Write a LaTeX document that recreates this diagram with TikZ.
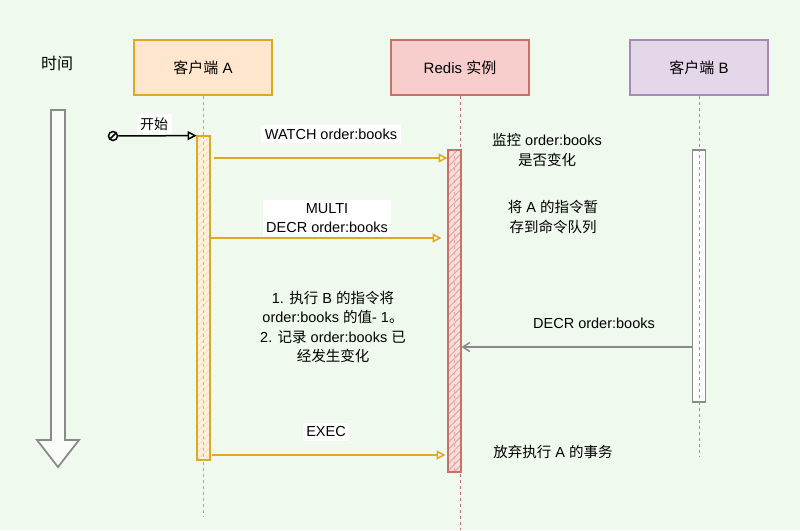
\documentclass[tikz,border=0pt]{standalone}
\usepackage{fontspec}
\setmainfont{Liberation Sans}
\newfontfamily\cjk{Noto Sans CJK SC}
\newcommand\zh[1]{{\cjk #1}}
\usetikzlibrary{arrows.meta,patterns.meta}
\definecolor{bg}{HTML}{F0F9EE}
\definecolor{aFill}{HTML}{FFE6CC}
\definecolor{aLine}{HTML}{E0A820}
\definecolor{rFill}{HTML}{F8CECC}
\definecolor{rLine}{HTML}{C8706A}
\definecolor{bFill}{HTML}{E4D7EA}
\definecolor{bLine}{HTML}{A58AB5}
\definecolor{gLine}{HTML}{8A8A8A}
\tikzset{
  head/.style={draw, line width=1.3pt, minimum width=138pt, minimum height=55pt, font=\fontsize{15}{17}\selectfont},
  life/.style={dashed, dash pattern=on 3pt off 3pt, line width=1pt},
  bar/.style={draw, line width=1.4pt, minimum width=13pt, inner sep=0pt},
  msg/.style={draw=aLine, line width=1.5pt, -{Triangle[open,length=9pt,width=9pt]}},
  lbl/.style={fill=white, inner sep=3.5pt, font=\fontsize{14.5}{18}\selectfont, align=center},
  note/.style={font=\fontsize{14.5}{19.5}\selectfont, align=center, inner sep=0pt},
}
\begin{document}
\begin{tikzpicture}[x=1pt,y=-1pt]
\fill[bg] (0,0) rectangle (800,530);
\useasboundingbox (0,0) rectangle (800,530);

% time
\node[font=\fontsize{16}{18}\selectfont\cjk] (time) at (57,63) {时间};
\draw[gLine, line width=1.8pt, fill=bg!50!white] (51,110) -- (65,110) -- (65,440) -- (79,440) -- (58,467) -- (37,440) -- (51,440) -- cycle;

% heads
\node[head, draw=aLine, fill=aFill] (A) at (203,67.5) {\zh{客户端} A};
\node[head, draw=rLine, fill=rFill] (R) at (460,67.5) {Redis \zh{实例}};
\node[head, draw=bLine, fill=bFill] (B) at (699,67.5) {\zh{客户端} B};

% lifelines
\coordinate (Aend) at (203,517);
\coordinate (Rend) at (460,530);
\coordinate (Bend) at (699,456);
\draw[life, aLine] (A.south) -- (Aend);
\draw[life, rLine] (R.south) -- (Rend);
\draw[life, bLine] (B.south) -- (Bend);

% activation bars
\node[bar, draw=aLine, minimum height=324pt, fill=aFill!60!white] at (203.5,298) {};
\node[bar, draw=aLine, minimum height=324pt, pattern={Lines[angle=45,distance=5pt,line width=0.8pt]}, pattern color=aLine!35] (actA) at (203.5,298) {};
\node[bar, draw=rLine, minimum height=322pt, fill=rFill!70!white] at (454.5,311) {};
\node[bar, draw=rLine, minimum height=322pt, pattern={Lines[angle=45,distance=5pt,line width=1pt]}, pattern color=rLine!60] (actR) at (454.5,311) {};
\node[bar, draw=gLine, fill=white, minimum height=252pt] (actB) at (699,276) {};
\draw[life, bLine] (actB.north) -- (actB.south);
\draw[life, aLine!80] (actA.north) -- (actA.south);
\draw[life, rLine!60] (actR.north) -- (actR.south);

% start
\node[circle, draw, line width=1.5pt, minimum size=9pt, inner sep=0pt] (st) at (113,136) {};
\draw[line width=1.5pt] (st.south west) -- (st.north east);
\draw[line width=1.5pt, -{Triangle[open,length=9pt,width=9pt]}] (st) -- (actA.north west);
\node[lbl, font=\fontsize{14}{16}\selectfont\cjk] (stl) at (154,124) {开始};

% messages
\coordinate (y1) at (0,158);
\coordinate (y2) at (0,238);
\coordinate (y3) at (0,347);
\coordinate (y4) at (0,455);
\node[lbl] (l1) at (331,134) {WATCH order:books};
\draw[msg] ([xshift=4pt]actA.east |- y1) -- (actR.west |- y1);
\node[lbl, font=\fontsize{14.5}{19}\selectfont] (l2) at (327,218) {MULTI\\DECR order:books};
\draw[msg] (actA.east |- y2) -- ([xshift=-6pt]actR.west |- y2);
\node[lbl, fill=none] (l3) at (594,323) {DECR order:books};
\draw[draw=gLine, line width=1.5pt, -{Straight Barb[length=7pt,width=9pt]}] (actB.west |- y3) -- (actR.east |- y3);
\node[lbl] (l4) at (326,432) {EXEC};
\draw[msg] ([xshift=2pt]actA.east |- y4) -- ([xshift=-2pt]actR.west |- y4);

% notes
\node[note] (n1) at (547,150) {\zh{监控} order:books\\\zh{是否变化}};
\node[note] (n2) at (553,217) {\zh{将} A \zh{的指令暂}\\\zh{存到命令队列}};
\node[note] (n3) at (333,327) {1. \zh{执行} B \zh{的指令将}\\order:books \zh{的值}- 1\zh{。}\\2. \zh{记录} order:books \zh{已}\\\zh{经发生变化}};
\node[note] (n4) at (553,452) {\zh{放弃执行} A \zh{的事务}};
\end{tikzpicture}
\end{document}
